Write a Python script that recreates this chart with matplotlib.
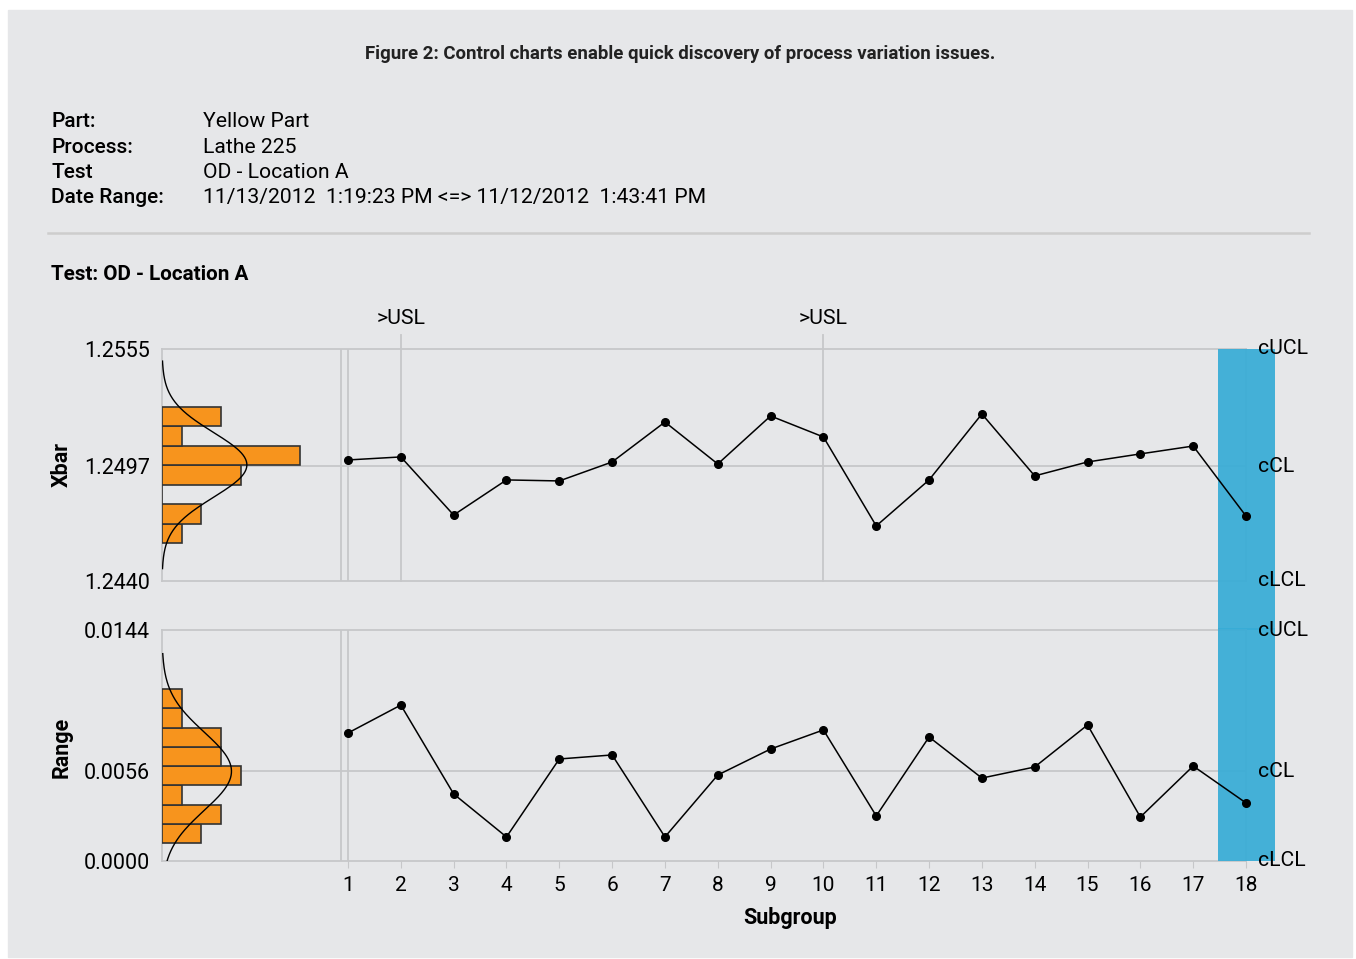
import numpy as np
import matplotlib.pyplot as plt
from matplotlib.patches import Rectangle
from matplotlib.lines import Line2D
from matplotlib.transforms import blended_transform_factory

plt.rcParams['font.family'] = ['Roboto', 'DejaVu Sans']

# ---- data ----
subgroups = list(range(1, 19))
xbar = [1.25000, 1.25015, 1.24727, 1.24901, 1.24896, 1.24990, 1.25188, 1.24980, 1.25218,
        1.25114, 1.24673, 1.24901, 1.25228, 1.24921, 1.24990, 1.25030, 1.25069, 1.24722]
ranges = [0.00798, 0.00972, 0.00418, 0.00150, 0.00636, 0.00661, 0.00150, 0.00536, 0.00698,
          0.00817, 0.00281, 0.00773, 0.00517, 0.00586, 0.00848, 0.00274, 0.00592, 0.00362]

xbar_lcl, xbar_cl, xbar_ucl = 1.2440, 1.2497, 1.2555
rng_lcl, rng_cl, rng_ucl = 0.0000, 0.0056, 0.0144

# histogram counts, bottom bin -> top bin
xbar_hist_lo, xbar_hist_hi = 1.24588, 1.25263
xbar_hist_counts = [1, 2, 0, 4, 7, 1, 3]
rng_hist_lo, rng_hist_hi = 0.00112, 0.01072
rng_hist_counts = [2, 3, 1, 4, 3, 3, 1, 1]

usl_subgroups = [2, 10]
highlight = 18

info_labels = ['Part:', 'Process:', 'Test', 'Date Range:']
info_values = ['Yellow Part', 'Lathe 225', 'OD - Location A',
               '11/13/2012  1:19:23 PM <=> 11/12/2012  1:43:41 PM']

# ---- figure ----
W, H = 1356, 959
fig = plt.figure(figsize=(W / 100, H / 100), dpi=100, facecolor='white')

def fx(px):
    return px / W

def fy(py):
    return 1 - py / H

BG = '#e6e7e9'
GRID = '#c6c7c9'
BLUE = '#38acd6'
ORANGE = '#f7941d'

fig.add_artist(Rectangle((fx(8), fy(957)), fx(1352) - fx(8), fy(10) - fy(957),
                         transform=fig.transFigure, color=BG, zorder=-5))

fig.text(fx(680), fy(54), 'Figure 2: Control charts enable quick discovery of process variation issues.',
         ha='center', va='center', fontsize=13.4, fontweight='bold', color='#222222')

for i, (lab, val) in enumerate(zip(info_labels, info_values)):
    yy = [127, 153, 178, 203][i]
    fig.text(fx(51), fy(yy), lab, ha='left', va='baseline', fontsize=15, fontweight='medium')
    fig.text(fx(203), fy(yy), val, ha='left', va='baseline', fontsize=15.2)

fig.add_artist(Line2D([fx(48), fx(1309)], [fy(233), fy(233)], color='#cdcdcd', lw=1.8))
fig.text(fx(51), fy(275), 'Test: OD - Location A', ha='left', va='center',
         fontsize=14.9, fontweight='bold')

x_left = 1 - (348 - 162) / 52.82
sep_x = 1 - 7 / 52.82

ax1 = fig.add_axes([fx(162), fy(581), fx(1246) - fx(162), fy(349) - fy(581)])
ax2 = fig.add_axes([fx(162), fy(861), fx(1246) - fx(162), fy(630) - fy(861)])


def draw_panel(ax, vals, lcl, cl, ucl, lo, hi, counts, ylabel, label_y, gap_below, extra_top):
    ax.set_facecolor('none')
    ax.set_xlim(x_left, 18)
    ax.set_ylim(lcl, ucl)
    for s in ax.spines.values():
        s.set_color(GRID)
        s.set_linewidth(1.3)
        s.set_zorder(1.5)
    ax.set_yticks([lcl, cl, ucl])
    ax.set_yticklabels([f'{v:.4f}' for v in (lcl, cl, ucl)])
    ax.tick_params(axis='y', length=0, pad=8.5, labelsize=15.5)
    ax.axhline(cl, color=GRID, lw=1.3, zorder=1)
    ax.axvline(sep_x, color=GRID, lw=1.3, zorder=1)
    ax.axvline(1, color=GRID, lw=1.3, zorder=1)
    ax.plot(subgroups, vals, color='black', lw=1.1, marker='o', ms=5.5, zorder=4, clip_on=False)

    # blue highlight band for last subgroup
    ax.add_patch(Rectangle((highlight - 0.53, -gap_below), 1.08, 1 + gap_below + extra_top,
                           transform=blended_transform_factory(ax.transData, ax.transAxes),
                           color=BLUE, alpha=0.93, lw=0, zorder=2.6, clip_on=False))

    # limit labels on the right
    tr = blended_transform_factory(fig.transFigure, ax.transData)
    for name, v in (('cUCL', ucl), ('cCL', cl), ('cLCL', lcl)):
        ax.text(fx(1258), v, name, transform=tr, ha='left', va='center', fontsize=15.2, zorder=5)

    # histogram with normal curve
    hw = (341 - 162) / (1246 - 162)
    hax = ax.inset_axes([0, 0, hw, 1])
    hax.set_ylim(lcl, ucl)
    hax.set_xlim(0, (341 - 162) / 19.7)
    hax.axis('off')
    edges = np.linspace(lo, hi, len(counts) + 1)
    binw = edges[1] - edges[0]
    hax.barh(edges[:-1] + binw / 2, counts, height=binw, color=ORANGE,
             edgecolor='#333333', lw=1.2)
    mu, sd = np.mean(vals), np.std(vals, ddof=1)
    k = 3.2 if ylabel == 'Xbar' else 3.0
    yy = np.linspace(mu - k * sd, mu + k * sd, 200)
    xx = len(vals) * binw / (sd * np.sqrt(2 * np.pi)) * np.exp(-0.5 * ((yy - mu) / sd) ** 2)
    hax.plot(xx, yy, color='black', lw=1)

    fig.text(fx(62), fy(label_y), ylabel, rotation=90, ha='center', va='center',
             fontsize=15.5, fontweight='bold')


draw_panel(ax1, xbar, xbar_lcl, xbar_cl, xbar_ucl, xbar_hist_lo, xbar_hist_hi,
           xbar_hist_counts, 'Xbar', 464, (630 - 581) / (581 - 349), 0)
draw_panel(ax2, ranges, rng_lcl, rng_cl, rng_ucl, rng_hist_lo, rng_hist_hi,
           rng_hist_counts, 'Range', 747, 0, 2 / 231)

ax1.set_xticks([])
for s in usl_subgroups:
    ax1.axvline(s, ymin=0, ymax=1 + 14 / 232, color=GRID, lw=1.3, zorder=1, clip_on=False)
    ax1.text(s, xbar_ucl + 30 * (xbar_ucl - xbar_lcl) / 232, '>USL', ha='center', va='center',
             fontsize=15.3)

ax2.set_xticks(subgroups)
ax2.tick_params(axis='x', length=5, color=GRID, pad=6, labelsize=15)
ax2.set_xlabel('')
fig.text(fx(790), fy(918), 'Subgroup', ha='center', va='center', fontsize=15.5, fontweight='bold')

fig.savefig('out.png', dpi=100, facecolor=fig.get_facecolor())
